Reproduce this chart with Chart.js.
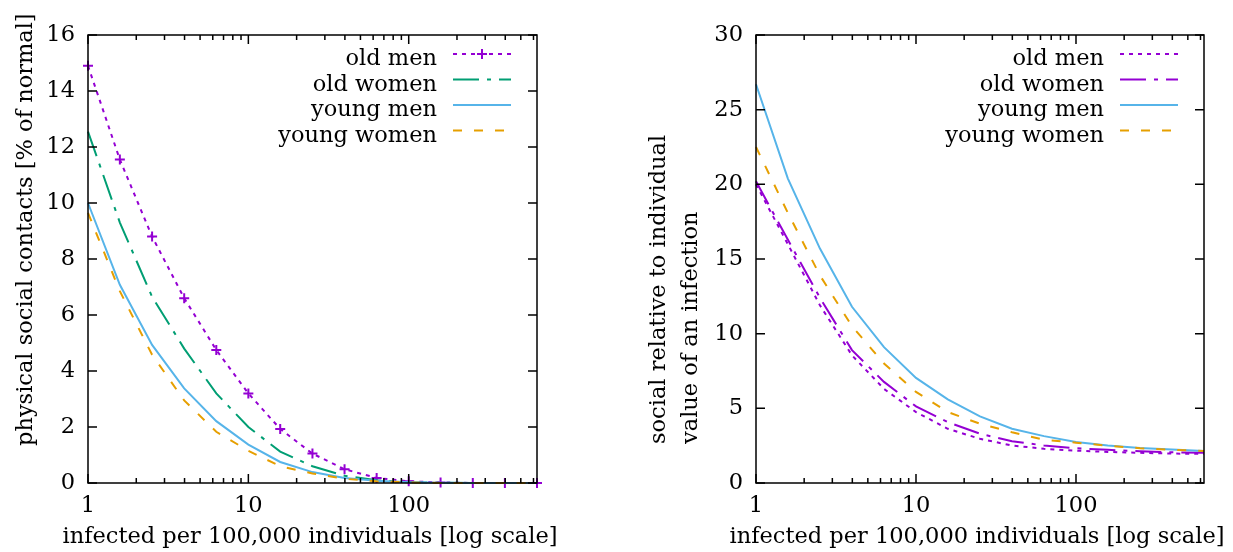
<!DOCTYPE html>
<html>
<head>
<meta charset="utf-8">
<script src="https://cdn.jsdelivr.net/npm/chart.js@4"></script>
<style>
body { margin: 0; background: #fff; }
#wrap { position: relative; width: 1233px; height: 552px; }
canvas { position: absolute; top: 0; }
</style>
</head>
<body>
<div id="wrap">
  <canvas id="contacts" width="616" height="552" style="left:0px"></canvas>
  <canvas id="value" width="617" height="552" style="left:616px"></canvas>
</div>
<script>
// infected per 100,000 (points every 1/5 decade)
var infected = [1, 1.58, 2.51, 3.98, 6.31, 10, 15.8, 25.1, 39.8, 63.1, 100, 158, 251, 398, 631];
var groups = ['old men', 'old women', 'young men', 'young women'];
var xTickLabels = [1, 10, 100];

// left: physical social contacts [% of normal]
var contactsOldMen     = [14.9, 11.55, 8.8, 6.6, 4.75, 3.2, 1.93, 1.05, 0.49, 0.18, 0.06, 0.02, 0, 0, 0];
var contactsOldWomen   = [12.55, 9.3, 6.65, 4.8, 3.2, 2.0, 1.12, 0.6, 0.26, 0.1, 0.03, 0.01, 0, 0, 0];
var contactsYoungMen   = [10.0, 7.08, 4.93, 3.38, 2.21, 1.37, 0.75, 0.39, 0.18, 0.08, 0.03, 0.01, 0, 0, 0];
var contactsYoungWomen = [9.65, 6.85, 4.58, 2.95, 1.83, 1.15, 0.6, 0.34, 0.15, 0.06, 0.02, 0, 0, 0, 0];

// right: social relative to individual value of an infection
var valueOldMen     = [20.0, 16.0, 11.9, 8.55, 6.3, 4.75, 3.63, 2.96, 2.51, 2.29, 2.17, 2.08, 2.02, 1.97, 1.95];
var valueOldWomen   = [20.2, 16.3, 12.4, 8.9, 6.77, 5.13, 4.08, 3.3, 2.8, 2.51, 2.33, 2.22, 2.13, 2.06, 2.02];
var valueYoungMen   = [26.7, 20.4, 15.7, 11.8, 9.1, 7.04, 5.6, 4.46, 3.63, 3.14, 2.74, 2.51, 2.35, 2.24, 2.15];
var valueYoungWomen = [22.5, 18.1, 13.9, 10.5, 8.0, 6.1, 4.75, 3.97, 3.4, 2.9, 2.7, 2.5, 2.33, 2.22, 2.15];

var xTitle = 'infected per 100,000 individuals [log scale]';

var FONT = '"DejaVu Serif", "Liberation Serif", serif';
var FSIZE = 22.5;
Chart.defaults.color = '#000';
Chart.defaults.font.family = FONT;
Chart.defaults.font.size = FSIZE;

function pts(ys) {
   var out = [];
   for (var i = 0; i < infected.length; i++) {
      out.push({ x: infected[i], y: ys[i] });
   }
   return out;
}

function makeSet(label, ys, color, dash, marker, order) {
   return {
      label: label,
      data: pts(ys),
      borderColor: color,
      backgroundColor: color,
      borderWidth: 2,
      borderDash: dash,
      tension: 0,
      clip: false,
      pointStyle: 'cross',
      pointRadius: marker ? 5 : 0,
      pointBorderWidth: 2,
      order: order
   };
}

// gnuplot style box with inward ticks on all four sides
var boxTicks = {
   id: 'boxTicks',
   afterDatasetsDraw: function(chart) {
      var ctx = chart.ctx;
      var a = chart.chartArea;
      var xs = chart.scales.x;
      var ys = chart.scales.y;
      ctx.save();
      ctx.strokeStyle = '#000';
      ctx.lineWidth = 1.5;
      ctx.setLineDash([]);
      ctx.beginPath();
      // x ticks, major at decades and minor in between
      for (var d = 1; d <= 100; d *= 10) {
         for (var m = 1; m <= 9; m++) {
            var v = d * m;
            if (v > xs.max) continue;
            var px = xs.getPixelForValue(v);
            var len = (m == 1) ? 9 : 5;
            ctx.moveTo(px, a.bottom); ctx.lineTo(px, a.bottom - len);
            ctx.moveTo(px, a.top); ctx.lineTo(px, a.top + len);
         }
      }
      ys.ticks.forEach(function(t) {
         var py = ys.getPixelForValue(t.value);
         ctx.moveTo(a.left, py); ctx.lineTo(a.left + 9, py);
         ctx.moveTo(a.right, py); ctx.lineTo(a.right - 9, py);
      });
      ctx.stroke();
      ctx.strokeRect(a.left, a.top, a.right - a.left, a.bottom - a.top);
      ctx.restore();
   }
};

// axis titles: the y one rotated and starting near the bottom like gnuplot,
// the x one drawn here too so chart.js does not squeeze it to the plot width
var axisTitles = {
   id: 'axisTitles',
   afterDraw: function(chart, args, opts) {
      var ctx = chart.ctx;
      ctx.save();
      ctx.font = FSIZE + 'px ' + FONT;
      ctx.fillStyle = '#000';
      ctx.textBaseline = 'alphabetic';
      ctx.textAlign = 'center';
      ctx.fillText(xTitle, opts.xCenter, opts.xBaseline);
      ctx.textAlign = 'left';
      opts.lines.forEach(function(line, i) {
         ctx.save();
         ctx.translate(opts.baselines[i], opts.startY);
         ctx.rotate(-Math.PI / 2);
         ctx.fillText(line, 0, 0);
         ctx.restore();
      });
      ctx.restore();
   }
};

// key inside the plot: text right aligned, then a sample of the line
var insideKey = {
   id: 'insideKey',
   afterDraw: function(chart, args, opts) {
      var ctx = chart.ctx;
      ctx.save();
      ctx.font = FSIZE + 'px ' + FONT;
      ctx.textAlign = 'right';
      ctx.textBaseline = 'alphabetic';
      chart.data.datasets.forEach(function(ds, i) {
         var y = opts.top + i * opts.row;
         ctx.fillStyle = '#000';
         ctx.fillText(ds.label, opts.textRight, y + opts.baseline);
         ctx.strokeStyle = ds.borderColor;
         ctx.lineWidth = 2;
         ctx.setLineDash(ds.borderDash || []);
         ctx.beginPath();
         ctx.moveTo(opts.lineLeft, y);
         ctx.lineTo(opts.lineRight, y);
         ctx.stroke();
         if (ds.pointRadius > 0) {
            var cx = (opts.lineLeft + opts.lineRight) / 2;
            ctx.setLineDash([]);
            ctx.beginPath();
            ctx.moveTo(cx - 5, y); ctx.lineTo(cx + 5, y);
            ctx.moveTo(cx, y - 5); ctx.lineTo(cx, y + 5);
            ctx.stroke();
         }
      });
      ctx.restore();
   }
};

function makeChart(id, sets, yMax, yStep, axisWidth, padRight, key, titles) {
   var ctx = document.getElementById(id).getContext('2d');
   return new Chart(ctx, {
      type: 'line',
      data: { datasets: sets },
      options: {
         responsive: false,
         animation: false,
         devicePixelRatio: 1,
         layout: { padding: { top: 35, right: padRight, left: 0, bottom: 0 } },
         plugins: {
            legend: { display: false },
            tooltip: { enabled: false },
            insideKey: key,
            axisTitles: titles
         },
         scales: {
            x: {
               type: 'logarithmic',
               min: 1,
               max: 631,
               grid: { display: false, drawTicks: false },
               border: { display: false },
               afterBuildTicks: function(scale) {
                  scale.ticks = xTickLabels.map(function(v) { return { value: v }; });
               },
               afterFit: function(scale) { scale.height = 69; },
               ticks: {
                  autoSkip: false,
                  maxRotation: 0,
                  padding: 10,
                  callback: function(v) { return String(v); }
               },
               title: { display: false }
            },
            y: {
               min: 0,
               max: yMax,
               grid: { display: false, drawTicks: false },
               border: { display: false },
               afterFit: function(scale) { scale.width = axisWidth; },
               ticks: { stepSize: yStep, padding: 13 },
               title: { display: false }
            }
         }
      },
      plugins: [boxTicks, axisTitles, insideKey]
   });
}

var purple = '#9400d3', green = '#009e73', blue = '#56b4e9', orange = '#e69f00';

makeChart('contacts', [
   makeSet(groups[0], contactsOldMen, purple, [4, 5], true, 3),
   makeSet(groups[1], contactsOldWomen, green, [26, 8, 4, 8], false, 2),
   makeSet(groups[2], contactsYoungMen, blue, [], false, 1),
   makeSet(groups[3], contactsYoungWomen, orange, [9, 12], false, 0)
], 16, 2, 88, 79,
   { top: 54, row: 25.5, baseline: 11, textRight: 437, lineLeft: 453, lineRight: 511 },
   { lines: ['physical social contacts [% of normal]'], baselines: [32], startY: 446,
     xCenter: 310, xBaseline: 543 });

makeChart('value', [
   makeSet(groups[0], valueOldMen, purple, [4, 5], false, 3),
   makeSet(groups[1], valueOldWomen, purple, [26, 8, 4, 8], false, 2),
   makeSet(groups[2], valueYoungMen, blue, [], false, 1),
   makeSet(groups[3], valueYoungWomen, orange, [9, 12], false, 0)
], 30, 5, 140, 29,
   { top: 54, row: 25.5, baseline: 11, textRight: 488, lineLeft: 504, lineRight: 562 },
   { lines: ['social relative to individual', 'value of an infection'], baselines: [49, 81], startY: 444,
     xCenter: 361, xBaseline: 543 });
</script>
</body>
</html>
